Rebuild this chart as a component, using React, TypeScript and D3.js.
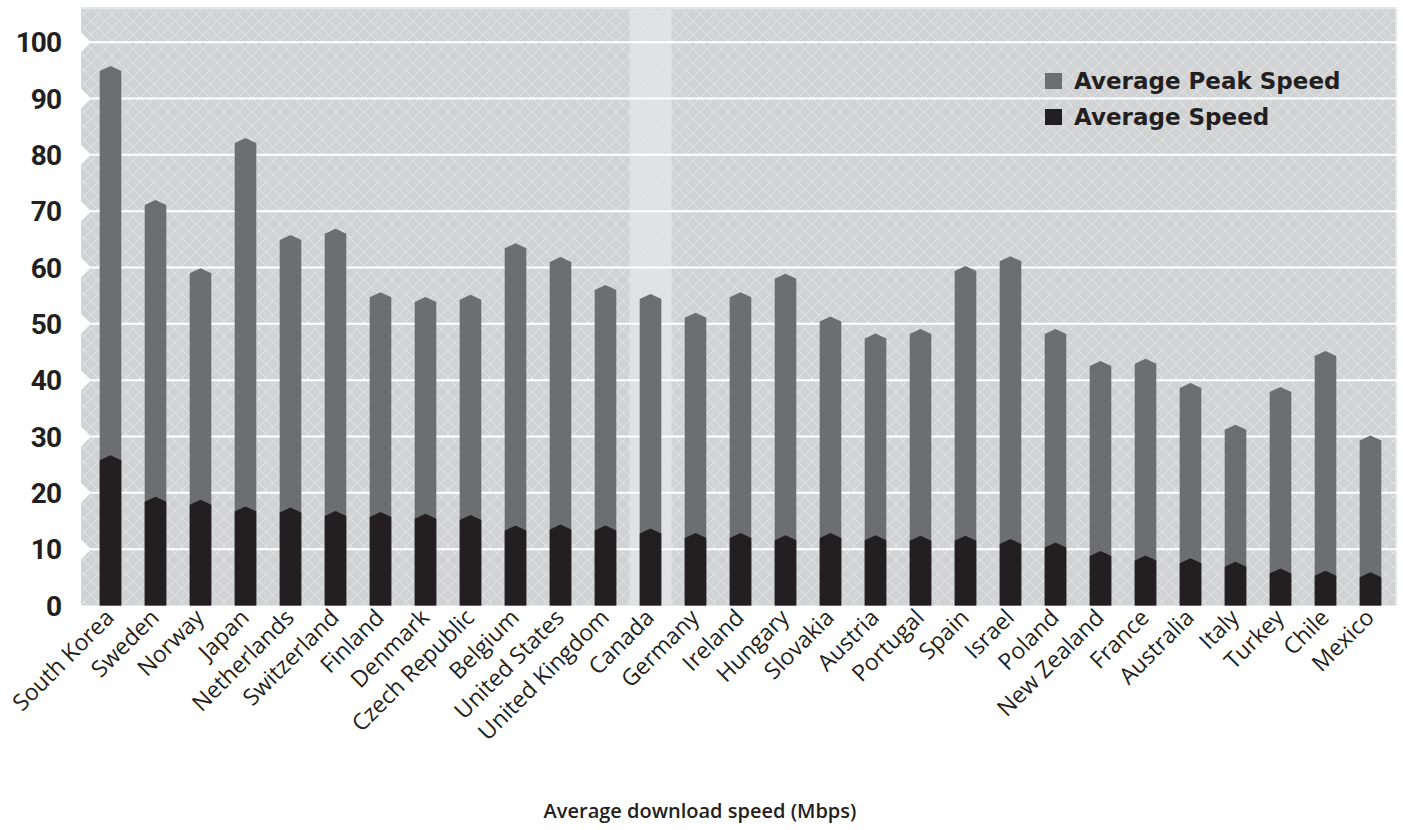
import React from "react";
import * as d3 from "d3";

const countries = ["South Korea","Sweden","Norway","Japan","Netherlands","Switzerland","Finland","Denmark","Czech Republic","Belgium","United States","United Kingdom","Canada","Germany","Ireland","Hungary","Slovakia","Austria","Portugal","Spain","Israel","Poland","New Zealand","France","Australia","Italy","Turkey","Chile","Mexico"];
const peakSpeed = [94.9,71.1,59.0,82.1,64.9,66.0,54.7,53.9,54.3,63.4,61.0,56.0,54.4,51.1,54.7,58.0,50.4,47.4,48.2,59.4,61.1,48.2,42.5,42.9,38.6,31.2,37.9,44.3,29.3];
const avgSpeed = [25.8,18.4,17.9,16.7,16.5,15.9,15.7,15.4,15.2,13.3,13.5,13.3,12.8,12.0,12.0,11.6,12.0,11.6,11.5,11.5,10.9,10.3,8.8,8.0,7.5,6.9,5.7,5.3,5.0];
const yTicks = [0,10,20,30,40,50,60,70,80,90,100];
const highlighted = "Canada";
const legendItems = [
  { label: "Average Peak Speed", color: "#6d6e70" },
  { label: "Average Speed", color: "#231f20" },
];
const axisTitle = "Average download speed (Mbps)";

const W = 1403, H = 830;
const plotL = 81, plotR = 1397, plotT = 7, plotB = 605.5;

export default function App() {
  const x = d3.scaleBand<string>().domain(countries).range([88, 1393]).padding(0);
  const y = d3.scaleLinear().domain([0, 100]).range([plotB, 42.2]);
  const bw = x.bandwidth() * 0.48;
  const tip = 5;

  const barPath = (c: string, v: number) => {
    const cx = (x(c) as number) + x.bandwidth() / 2;
    const x0 = cx - bw / 2, x1 = cx + bw / 2;
    const ys = y(v);
    return `M${x0},${plotB} L${x0},${ys} L${cx},${ys - tip} L${x1},${ys} L${x1},${plotB} Z`;
  };

  const hx = (x(highlighted) as number) + x.bandwidth() / 2;
  const hw = x.bandwidth() * 0.94;

  return (
    <svg width={W} height={H} style={{ position: "absolute", left: 0, top: 0, background: "#fff" }}>
      <defs>
        <pattern id="hatch" patternUnits="userSpaceOnUse" width={14} height={14}>
          <path d="M-1,-1 L15,15 M15,-1 L-1,15" stroke="#e6e7e8" strokeWidth={1} opacity={0.8} />
        </pattern>
      </defs>
      <rect x={plotL} y={plotT} width={plotR - plotL} height={plotB - plotT} fill="#d1d2d4" />
      <rect x={plotL} y={plotT} width={plotR - plotL} height={plotB - plotT} fill="url(#hatch)" />
      <rect x={plotL} y={plotT} width={plotR - plotL} height={2.3} fill="#e4e5e6" />
      <rect x={plotR - 2} y={plotT} width={2} height={plotB - plotT} fill="#e4e5e6" />
      <rect x={hx - hw / 2} y={plotT + 2.3} width={hw} height={plotB - plotT - 2.3} fill="#e1e2e4" opacity={0.88} />
      {yTicks.filter(t => t > 0).map(t => (
        <g key={t}>
          <line x1={plotL} x2={plotR} y1={y(t)} y2={y(t)} stroke="#fff" strokeWidth={2} />
          <path d={`M${plotL},${y(t) - 10} L${plotL + 10},${y(t)} L${plotL},${y(t) + 10} Z`} fill="#fff" />
        </g>
      ))}
      {countries.map((c, i) => (
        <path key={"p" + c} d={barPath(c, peakSpeed[i])} fill="#6d6e70" />
      ))}
      {countries.map((c, i) => (
        <path key={"a" + c} d={barPath(c, avgSpeed[i])} fill="#231f20" />
      ))}
      {yTicks.map(t => (
        <text key={t} x={61} y={y(t)} dy="0.36em" textAnchor="end"
          style={{ fontFamily: "Roboto", fontWeight: 700, fontSize: 28, letterSpacing: -1 }} fill="#231f20">
          {t}
        </text>
      ))}
      {countries.map(c => {
        const cx = (x(c) as number) + x.bandwidth() / 2;
        return (
          <text key={"l" + c} transform={`translate(${cx + 5},${619}) rotate(-45)`} textAnchor="end"
            style={{ fontFamily: "'Open Sans'", fontSize: 23 }} fill="#231f20">
            {c}
          </text>
        );
      })}
      {legendItems.map((it, i) => (
        <g key={it.label} transform={`translate(1045,${73 + i * 36})`}>
          <rect x={0} y={0} width={17} height={16} fill={it.color} />
          <text x={29} y={16} style={{ fontFamily: "'DejaVu Sans'", fontWeight: 700, fontSize: 23 }} fill="#231f20">
            {it.label}
          </text>
        </g>
      ))}
      <text x={700} y={818} textAnchor="middle"
        style={{ fontFamily: "'Open Sans'", fontWeight: 600, fontSize: 20 }} fill="#231f20">
        {axisTitle}
      </text>
    </svg>
  );
}
